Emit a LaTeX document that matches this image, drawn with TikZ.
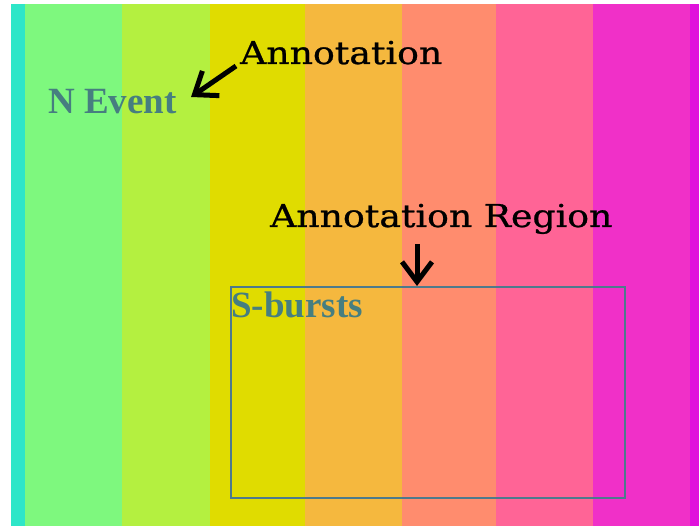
\documentclass[tikz,border=0pt]{standalone}
\usepackage{fontspec}
\setmainfont{Liberation Serif}
\newfontfamily\annfont[FakeStretch=1.15,FakeBold=0.8]{DejaVu Serif}
\usetikzlibrary{arrows.meta}

\definecolor{bandA}{HTML}{2EE6C8}
\definecolor{bandB}{HTML}{7EF87E}
\definecolor{bandC}{HTML}{B4F040}
\definecolor{bandD}{HTML}{E0DC00}
\definecolor{bandE}{HTML}{F5B83E}
\definecolor{bandF}{HTML}{FF8C6E}
\definecolor{bandG}{HTML}{FF6496}
\definecolor{bandH}{HTML}{F030C8}
\definecolor{bandI}{HTML}{E012DC}
\definecolor{labelteal}{HTML}{467E80}
\definecolor{boxteal}{HTML}{4D7A8C}

\tikzset{
  eventlabel/.style={anchor=base west, inner sep=0pt, text=labelteal,
                     font=\bfseries\fontsize{37}{40}\selectfont},
  annlabel/.style={anchor=base west, inner sep=0pt, text=black,
                   font=\annfont\fontsize{31.5}{34}\selectfont},
  annarrow/.style={line width=5pt, -{Straight Barb[length=20pt,width=30pt]}},
  regionbox/.style={draw=boxteal, line width=2pt, anchor=north west,
                    minimum width=394pt, minimum height=211pt, inner sep=0pt}
}

\begin{document}
\begin{tikzpicture}[x=1pt,y=-1pt]

    \useasboundingbox[fill=white] (0,0) rectangle (699,526);

    % coloured vertical bands
    \foreach \xa/\xb/\band in {11/25/bandA, 25/122/bandB, 122/210/bandC,
                               210/305/bandD, 305/402/bandE, 402/496/bandF,
                               496/593/bandG, 593/690/bandH, 690/699/bandI}
        \fill[\band] (\xa,4) rectangle (\xb,526);

    % event label and its note
    \node[eventlabel] (nevent) at (48,114) {N Event};
    \node[annlabel] (annot) at (240,64) {Annotation};
    \coordinate (annottail) at (236,66);
    \coordinate (eventtip) at (191,97);
    \draw[annarrow] (annottail) -- (eventtip);

    % region box with its label and note
    \node[regionbox] (region) at (230,286) {};
    \node[eventlabel] (sbursts) at (231,318) {S-bursts};
    \node[annlabel] (regionnote) at (270,227) {Annotation Region};
    \coordinate (regiontail) at (417,244);
    \draw[annarrow] (regiontail) -- (regiontail |- region.north);

\end{tikzpicture}
\end{document}
